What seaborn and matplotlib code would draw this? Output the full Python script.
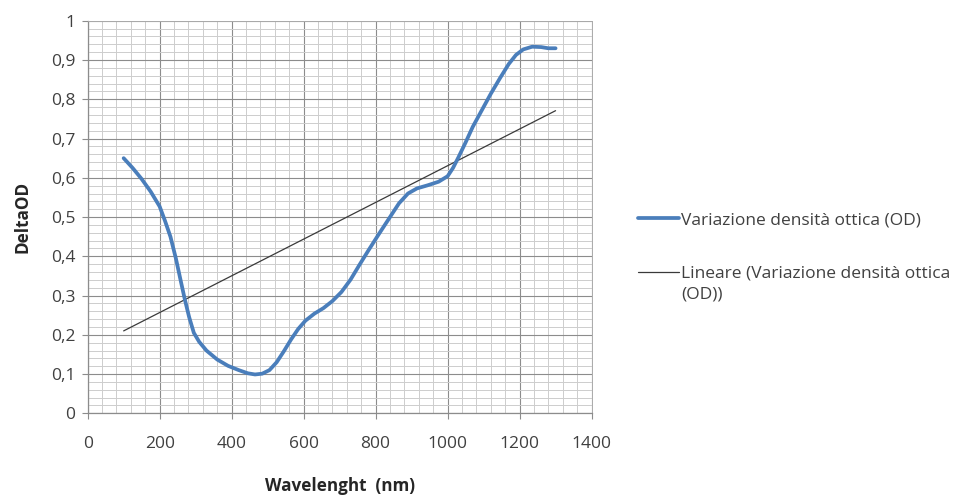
import numpy as np
import pandas as pd
import matplotlib
matplotlib.use("Agg")
import matplotlib.pyplot as plt
import seaborn as sns
from matplotlib.ticker import MultipleLocator, FuncFormatter

# Values
wavelength = [100, 125, 150, 175, 200, 215, 230, 245, 258, 270, 282, 295, 310,
              330, 360, 390, 420, 445, 465, 485, 505, 525, 545, 565, 585, 605,
              630, 655, 680, 705, 730, 755, 780, 810, 840, 865, 890, 915, 945,
              975, 1000, 1015, 1030, 1050, 1070, 1095, 1120, 1145, 1170, 1190,
              1210, 1235, 1260, 1280, 1300]
delta_od = [0.650, 0.625, 0.597, 0.565, 0.527, 0.490, 0.450, 0.395, 0.340,
            0.290, 0.245, 0.205, 0.182, 0.160, 0.137, 0.121, 0.110, 0.102,
            0.099, 0.101, 0.110, 0.130, 0.158, 0.188, 0.215, 0.236, 0.254,
            0.268, 0.286, 0.309, 0.340, 0.378, 0.415, 0.458, 0.500, 0.535,
            0.560, 0.573, 0.581, 0.590, 0.604, 0.625, 0.652, 0.690, 0.730,
            0.772, 0.814, 0.853, 0.890, 0.913, 0.927, 0.934, 0.933, 0.930,
            0.930]

# linear trend line end points
trend_x = [100, 1300]
trend_y = [0.210, 0.771]

x_ticks = [0, 200, 400, 600, 800, 1000, 1200, 1400]
y_ticks = [0, 0.1, 0.2, 0.3, 0.4, 0.5, 0.6, 0.7, 0.8, 0.9, 1]

series_label = "Variazione densità ottica (OD)"
trend_label = "Lineare (Variazione densità ottica"
trend_label_cont = "(OD))"

df = pd.DataFrame({"wavelength": wavelength, "delta_od": delta_od})

sns.set_style("white")
plt.rcParams["font.family"] = ["Open Sans", "DejaVu Sans"]

fig = plt.figure(figsize=(9.58, 4.95), dpi=100)
ax = fig.add_axes([0.0915, 0.165, 0.526, 0.793])

sns.lineplot(data=df, x="wavelength", y="delta_od", sort=False, ax=ax,
             color="#4A7EBB", linewidth=2.7, label=series_label,
             solid_joinstyle="round", solid_capstyle="round", zorder=4)
ax.plot(trend_x, trend_y, color="#3A3A3A", linewidth=0.9, label=trend_label,
        zorder=3)

ax.set_xlim(0, 1400)
ax.set_ylim(0, 1)
ax.set_xticks(x_ticks)
ax.set_yticks(y_ticks)
ax.xaxis.set_minor_locator(MultipleLocator(40))
ax.yaxis.set_minor_locator(MultipleLocator(0.02))
ax.yaxis.set_major_formatter(FuncFormatter(lambda v, p: f"{v:g}".replace(".", ",")))

ax.grid(which="major", color="#8C8C8C", linewidth=0.8)
ax.grid(which="minor", color="#CDCDCD", linewidth=0.7)
ax.set_axisbelow(True)

for side in ["left", "bottom"]:
    ax.spines[side].set_visible(True)
    ax.spines[side].set_color("#8C8C8C")
    ax.spines[side].set_linewidth(0.9)
for side in ["top", "right"]:
    ax.spines[side].set_visible(True)
    ax.spines[side].set_color("#AAAAAA")
    ax.spines[side].set_linewidth(0.7)

ax.tick_params(which="major", direction="out", length=4, width=0.8,
               color="#8C8C8C", labelsize=12.5, labelcolor="#404040",
               left=True, bottom=True)
ax.tick_params(axis="x", pad=12)
ax.tick_params(axis="y", pad=5)
ax.tick_params(which="minor", length=0)

ax.set_xlabel("Wavelenght  (nm)", fontsize=12.3, fontweight="bold",
              color="#262626", labelpad=18)
ax.set_ylabel("DeltaOD", fontsize=12.3, fontweight="bold", color="#262626",
              labelpad=14)

leg = ax.legend(loc="upper left", bbox_to_anchor=(1.078, 0.53), frameon=False,
                fontsize=12.5, handlelength=2.4, handletextpad=0.1,
                labelspacing=2.15, labelcolor="#404040", borderaxespad=0)

# second line of the trend label, put right under the legend text
fig.canvas.draw()
bb = leg.get_texts()[1].get_window_extent().transformed(fig.transFigure.inverted())
fig.text(bb.x0, bb.y0 - 0.01, trend_label_cont, fontsize=12.5, color="#404040",
         ha="left", va="top")

fig.savefig("out.png", dpi=100)
plt.close(fig)
